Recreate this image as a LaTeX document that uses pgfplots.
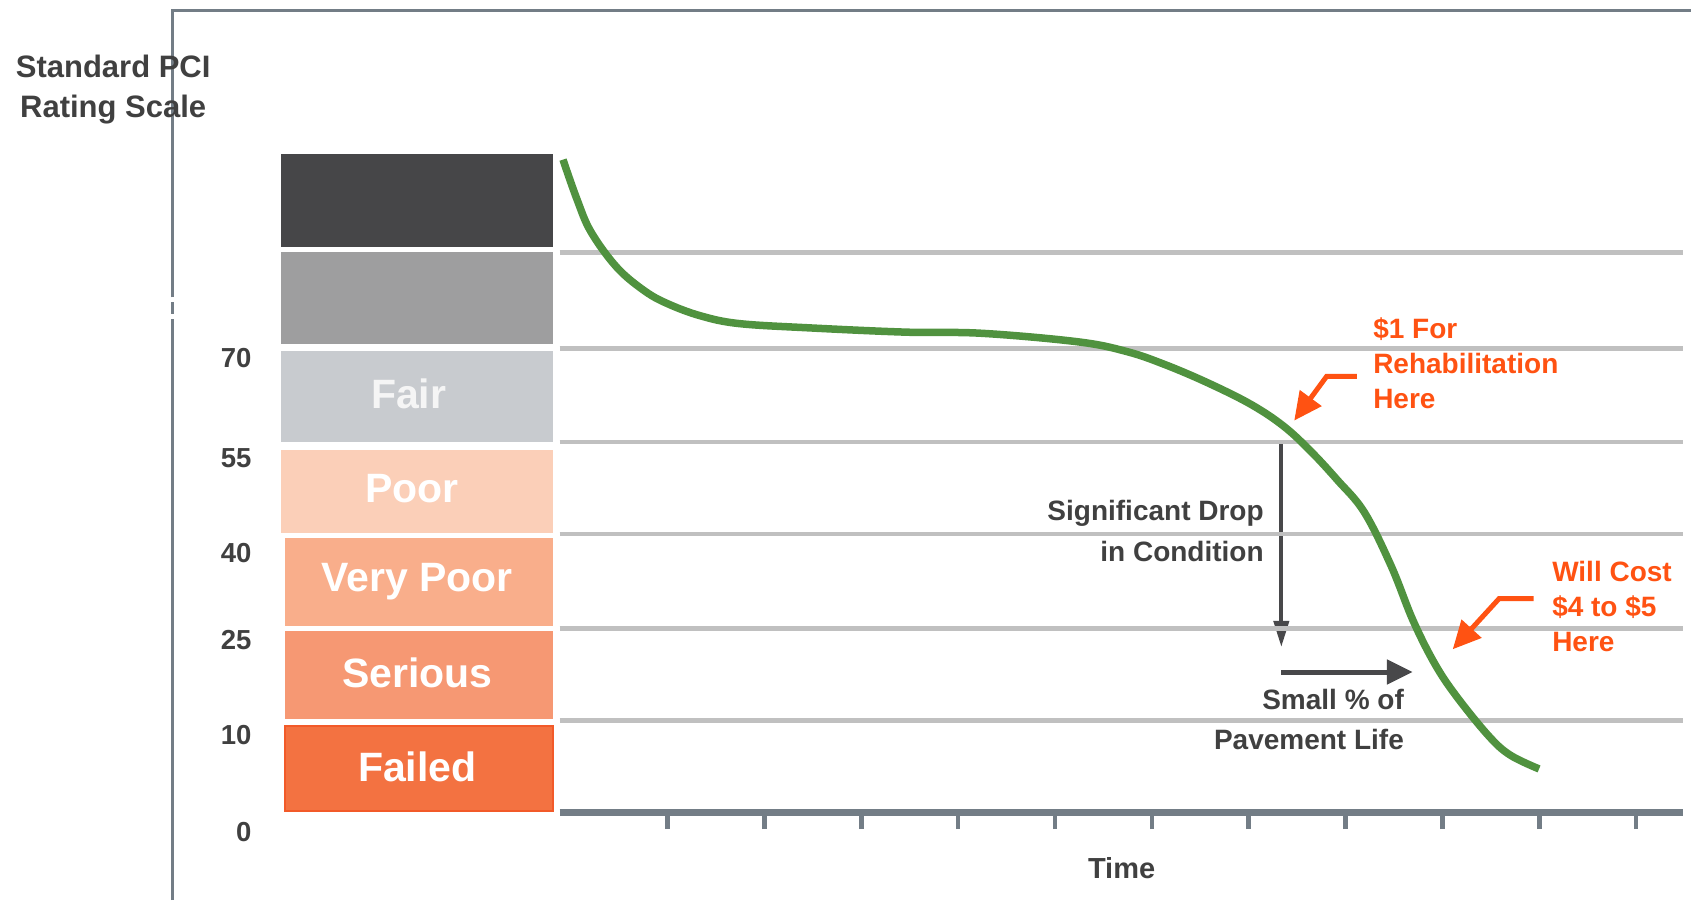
\documentclass[border=0pt]{standalone}
\usepackage{pgfplots}
\pgfplotsset{compat=1.18}
\usepackage{fontspec}
\setmainfont{Liberation Sans}
\usetikzlibrary{arrows.meta}
\definecolor{slate}{HTML}{737D86}
\definecolor{gridgray}{HTML}{C0C0C0}
\definecolor{curvegreen}{HTML}{50923F}
\definecolor{boxdark}{HTML}{464648}
\definecolor{boxgray}{HTML}{9E9E9F}
\definecolor{boxfair}{HTML}{C8CBCF}
\definecolor{boxpoor}{HTML}{FBCFB8}
\definecolor{boxvpoor}{HTML}{F9AE8B}
\definecolor{boxserious}{HTML}{F69873}
\definecolor{boxfailed}{HTML}{F37241}
\definecolor{failedborder}{HTML}{F25A29}
\definecolor{txtdark}{HTML}{404040}
\definecolor{arrowdark}{HTML}{48484A}
\definecolor{txtorange}{HTML}{FF5212}

\pgfplotstableread{
t b
-0.080 6.970
0.065 6.544
0.209 6.198
0.477 5.818
0.766 5.565
1.011 5.426
1.345 5.300
1.735 5.219
2.459 5.173
3.461 5.127
4.240 5.115
5.243 5.023
5.744 4.919
6.134 4.781
6.579 4.585
7.024 4.355
7.359 4.124
7.637 3.859
7.915 3.548
8.194 3.203
8.472 2.627
8.695 2.051
8.918 1.590
9.140 1.244
9.474 0.818
9.697 0.611
9.998 0.461
}\pcicurve

\newcommand{\boxfont}{\fontsize{41}{48}\selectfont\bfseries}
\begin{document}
\begin{tikzpicture}[x=1pt,y=1pt]
% frame
\draw[slate, line width=2.6pt] (172.6,0) -- (172.6,580.7);
\draw[slate, line width=2.6pt] (172.6,586) -- (172.6,597.7);
\draw[slate, line width=2.6pt, line join=miter] (172.6,602.7) -- (172.6,889.2) -- (1691,889.2);
% title
\node[align=center, text=txtdark, font=\fontsize{31}{40}\selectfont\bfseries] at (113.2,810) {Standard PCI\\Rating Scale};

\begin{axis}[
  x=96.85pt, y=93.61pt,
  anchor=south west, at={(559.7pt,41.1pt)},
  xmin=-0.114, xmax=11.48, ymin=-0.5, ymax=7.5,
  clip=false,
  axis x line=middle, axis y line=left,
  x axis line style={-, line width=7pt, color=slate, line cap=butt},
  y axis line style={draw=none},
  xtick={1,...,11}, xticklabels={},
  xtick style={line width=4.5pt, color=slate},
  tick align=outside, major tick length=17pt,
  ytick={-0.209,0.824,1.842,2.765,3.780,4.848},
  yticklabels={\textbf{0},\textbf{10},\textbf{25},\textbf{40},\textbf{55},\textbf{70}},
  ytick style={draw=none},
  yticklabel style={anchor=east, inner sep=0pt, xshift=-291pt, text=txtdark, font=\fontsize{27.5}{30}\selectfont\bfseries},
]
% vertical drop arrow (under the grid lines)
\draw[arrowdark, line width=4pt, -{Triangle[length=26pt,width=15pt]}] (axis cs:7.337,3.929) -- (axis cs:7.337,1.764);
% grid lines between bands
\addplot[gridgray, line width=4.5pt, forget plot] coordinates {(-0.114,0.979) (11.48,0.979)};
\addplot[gridgray, line width=4.5pt, forget plot] coordinates {(-0.114,1.959) (11.48,1.959)};
\addplot[gridgray, line width=4.5pt, forget plot] coordinates {(-0.114,2.972) (11.48,2.972)};
\addplot[gridgray, line width=4.5pt, forget plot] coordinates {(-0.114,3.952) (11.48,3.952)};
\addplot[gridgray, line width=4.5pt, forget plot] coordinates {(-0.114,4.954) (11.48,4.954)};
\addplot[gridgray, line width=4.5pt, forget plot] coordinates {(-0.114,5.979) (11.48,5.979)};
% rating scale boxes
\addplot[fill=boxdark, draw=none] coordinates {(-2.987,6.037) (-0.180,6.037) (-0.180,7.028) (-2.987,7.028)} --cycle;
\addplot[fill=boxgray, draw=none] coordinates {(-2.987,5.000) (-0.180,5.000) (-0.180,5.979) (-2.987,5.979)} --cycle;
\addplot[fill=boxfair, draw=none] coordinates {(-2.987,3.952) (-0.180,3.952) (-0.180,4.931) (-2.987,4.931)} --cycle;
\addplot[fill=boxpoor, draw=none] coordinates {(-2.987,2.984) (-0.180,2.984) (-0.180,3.871) (-2.987,3.871)} --cycle;
\addplot[fill=boxvpoor, draw=none] coordinates {(-2.953,1.993) (-0.180,1.993) (-0.180,2.926) (-2.953,2.926)} --cycle;
\addplot[fill=boxserious, draw=none] coordinates {(-2.953,0.991) (-0.180,0.991) (-0.180,1.935) (-2.953,1.935)} --cycle;
\addplot[fill=boxfailed, draw=failedborder, line width=2pt] coordinates {(-2.953,0.012) (-0.180,0.012) (-0.180,0.922) (-2.953,0.922)} --cycle;
\node[anchor=base, text=white!96!black, font=\boxfont] at (axis cs:-1.673,4.314) {Fair};
\node[anchor=base, text=white, font=\boxfont] at (axis cs:-1.640,3.305) {Poor};
\node[anchor=base, text=white, font=\boxfont] at (axis cs:-1.585,2.354) {Very Poor};
\node[anchor=base, text=white, font=\boxfont] at (axis cs:-1.585,1.333) {Serious};
\node[anchor=base, text=white, font=\boxfont] at (axis cs:-1.585,0.325) {Failed};
% deterioration curve
\addplot[curvegreen, line width=7.5pt, smooth, tension=0.6, line cap=butt] table[x=t, y=b] {\pcicurve};
\end{axis}

% annotations
\node[text=txtdark, font=\fontsize{29}{34}\selectfont\bfseries] at (1121.6,31.8) {Time};
\node[anchor=east, align=right, text=txtdark, font=\fontsize{28}{41}\selectfont\bfseries] at (1267.2,369.4) {Significant Drop\\in Condition};
\node[anchor=east, align=right, text=txtdark, font=\fontsize{28}{40}\selectfont\bfseries] at (1407.4,181) {Small \% of\\Pavement Life};
\draw[arrowdark, line width=5pt, -{Triangle[length=26pt,width=24pt]}] (1281.3,228) -- (1412.8,228);

\node[anchor=west, align=left, text=txtorange, font=\fontsize{28}{35}\selectfont\bfseries] at (1369.7,537) {\$1 For\\Rehabilitation\\Here};
\draw[txtorange, line width=5pt, line join=miter, -{Triangle[length=28pt,width=26pt]}] (1356.8,523.6) -- (1326.6,523.6) -- (1294.2,479.4);
\node[anchor=west, align=left, text=txtorange, font=\fontsize{28}{35}\selectfont\bfseries] at (1548.7,293.9) {Will Cost\\\$4 to \$5\\Here};
\draw[txtorange, line width=5pt, line join=miter, -{Triangle[length=28pt,width=26pt]}] (1533.6,301.4) -- (1499.1,301.4) -- (1452.7,250.7);

\pgfresetboundingbox
\path[use as bounding box] (0,0) rectangle (1691,900);
\end{tikzpicture}
\end{document}
